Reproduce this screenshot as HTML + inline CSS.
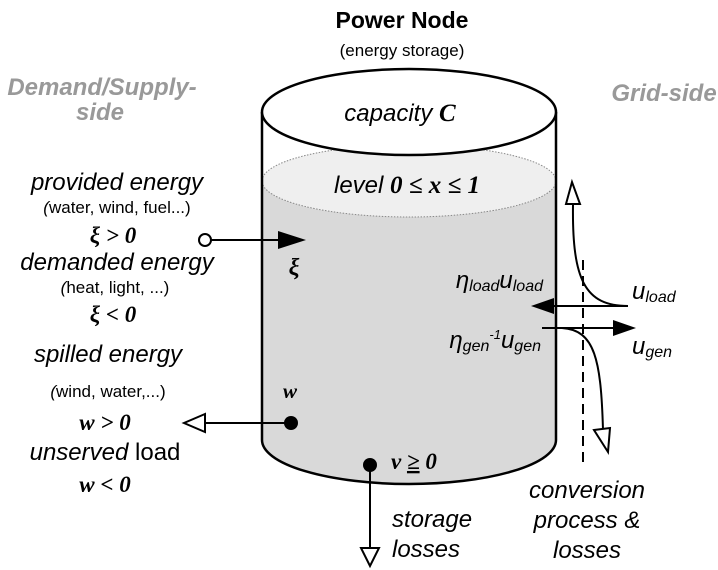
<!DOCTYPE html>
<html><head><meta charset="utf-8"><style>
html,body{margin:0;padding:0;background:#fff}
svg{display:block}
text{font-family:"Liberation Sans",sans-serif}
.s{font-family:"Liberation Serif",serif;font-weight:bold;font-style:italic}
</style></head><body>
<svg width="718" height="570" viewBox="0 0 718 570" xmlns="http://www.w3.org/2000/svg">
<path d="M262 181 L262 440 A147 44 0 0 0 556 440 L556 181 Z" fill="#d9d9d9"/>
<path d="M262 112 L262 181 A147 36 0 0 0 556 181 L556 112 Z" fill="#fff"/>
<ellipse cx="409" cy="181" rx="147" ry="36" fill="#efefef" stroke="#888" stroke-width="1" stroke-dasharray="1.5 1.5"/>
<path d="M262 112 L262 440 A147 44 0 0 0 556 440 L556 112" fill="none" stroke="#000" stroke-width="2.5"/>
<ellipse cx="409" cy="112" rx="147" ry="43" fill="#fff" stroke="#000" stroke-width="2.5"/>

<text x="402" y="28" font-size="23" font-weight="bold" text-anchor="middle">Power Node</text>
<text x="402" y="56" font-size="17" text-anchor="middle">(energy storage)</text>
<text x="102" y="95" font-size="24" font-weight="bold" font-style="italic" fill="#999" text-anchor="middle">Demand/Supply-</text>
<text x="100" y="120" font-size="24" font-weight="bold" font-style="italic" fill="#999" text-anchor="middle">side</text>
<text x="664" y="101" font-size="24" font-weight="bold" font-style="italic" fill="#999" text-anchor="middle">Grid-side</text>

<text x="400" y="121" font-size="24" font-style="italic" text-anchor="middle">capacity <tspan class="s" font-size="25">C</tspan></text>
<text x="407" y="193" font-size="24" font-style="italic" text-anchor="middle">level <tspan class="s" font-size="25">0 ≤ x ≤ 1</tspan></text>

<text x="117" y="190" font-size="24" font-style="italic" text-anchor="middle">provided energy</text>
<text x="117" y="213" font-size="17" text-anchor="middle"><tspan font-style="italic">(</tspan>water, wind, fuel...)</text>
<text x="113" y="243" font-size="23" class="s" text-anchor="middle">ξ &gt; 0</text>
<text x="117" y="270" font-size="24" font-style="italic" text-anchor="middle">demanded energy</text>
<text x="115" y="293" font-size="17" text-anchor="middle"><tspan font-style="italic">(</tspan>heat, light, ...)</text>
<text x="113" y="322" font-size="23" class="s" text-anchor="middle">ξ &lt; 0</text>
<text x="108" y="362" font-size="24" font-style="italic" text-anchor="middle">spilled energy</text>
<text x="108" y="397" font-size="17" text-anchor="middle"><tspan font-style="italic">(</tspan>wind, water,...)</text>
<text x="105" y="430" font-size="23" class="s" text-anchor="middle">w &gt; 0</text>
<text x="105" y="460" font-size="24" text-anchor="middle"><tspan font-style="italic">unserved</tspan> load</text>
<text x="105" y="492" font-size="23" class="s" text-anchor="middle">w &lt; 0</text>

<circle cx="205" cy="240" r="6" fill="#fff" stroke="#000" stroke-width="2"/>
<line x1="211" y1="240" x2="280" y2="240" stroke="#000" stroke-width="2"/>
<polygon points="278,231 306,240 278,249" fill="#000"/>
<text x="294" y="275" font-size="24" class="s" text-anchor="middle">ξ</text>

<circle cx="291" cy="423" r="7" fill="#000"/>
<line x1="291" y1="423" x2="205" y2="423" stroke="#000" stroke-width="2"/>
<polygon points="205,414 184,423 205,432" fill="#fff" stroke="#000" stroke-width="2"/>
<text x="290" y="398" font-size="21" class="s" text-anchor="middle">w</text>

<circle cx="370" cy="465" r="7" fill="#000"/>
<line x1="370" y1="465" x2="370" y2="548" stroke="#000" stroke-width="2"/>
<polygon points="361,548 379,548 370,566" fill="#fff" stroke="#000" stroke-width="2"/>
<text x="391" y="469" font-size="23" class="s">v <tspan text-decoration="underline">≥</tspan> 0</text>
<text x="392" y="527" font-size="24" font-style="italic">storage</text>
<text x="392" y="557" font-size="24" font-style="italic">losses</text>
<text x="587" y="498" font-size="24" font-style="italic" text-anchor="middle">conversion</text>
<text x="587" y="528" font-size="24" font-style="italic" text-anchor="middle">process &amp;</text>
<text x="587" y="558" font-size="24" font-style="italic" text-anchor="middle">losses</text>

<line x1="583" y1="260" x2="583" y2="467" stroke="#000" stroke-width="2" stroke-dasharray="10 6"/>
<line x1="628" y1="306" x2="550" y2="306" stroke="#000" stroke-width="2"/>
<polygon points="554,298 531,306 554,314" fill="#000"/>
<path d="M628 306 C585 306 572 280 573 205" fill="none" stroke="#000" stroke-width="2"/>
<polygon points="566,204 580,204 572,182" fill="#fff" stroke="#000" stroke-width="2"/>
<line x1="542" y1="328" x2="615" y2="328" stroke="#000" stroke-width="2"/>
<polygon points="613,320 636,328 613,336" fill="#000"/>
<path d="M562 328 C595 330 601 360 603 430" fill="none" stroke="#000" stroke-width="2"/>
<polygon points="594,430 610,428 608,452" fill="#fff" stroke="#000" stroke-width="2"/>

<text x="543" y="288" font-size="24" font-style="italic" text-anchor="end">η<tspan font-size="16" dy="3">load</tspan><tspan dy="-3">u</tspan><tspan font-size="16" dy="3">load</tspan></text>
<text x="541" y="348" font-size="24" font-style="italic" text-anchor="end">η<tspan font-size="16" dy="3">gen</tspan><tspan font-size="13" dy="-12">-1</tspan><tspan dy="9">u</tspan><tspan font-size="16" dy="3">gen</tspan></text>
<text x="632" y="299" font-size="24" font-style="italic">u<tspan font-size="16" dy="3">load</tspan></text>
<text x="632" y="354" font-size="24" font-style="italic">u<tspan font-size="16" dy="3">gen</tspan></text>
</svg>
</body></html>
